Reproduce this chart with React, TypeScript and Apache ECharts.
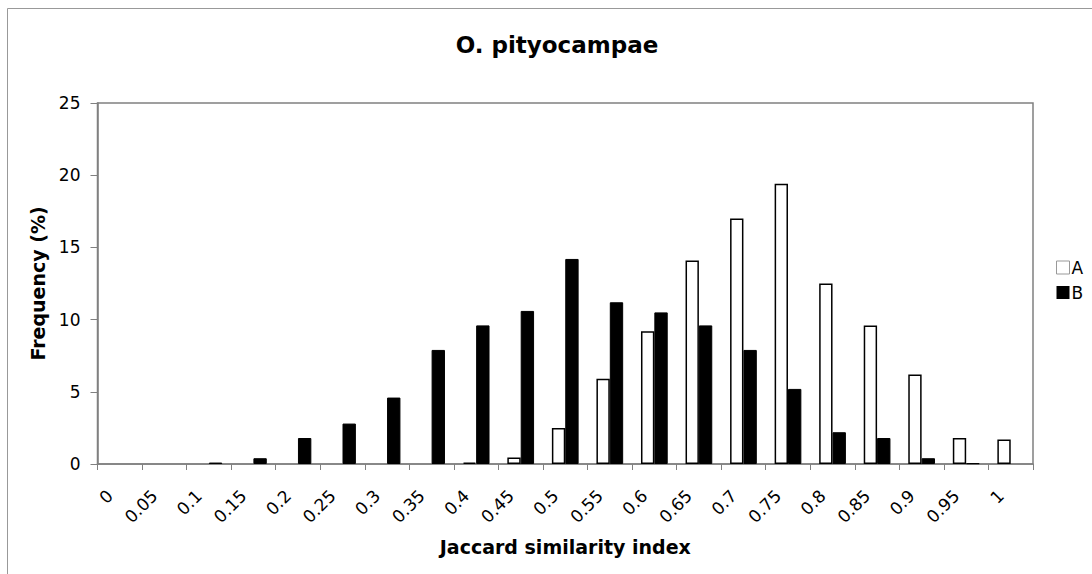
import React, { useEffect, useRef } from "react";
import * as echarts from "echarts";

const categories = ["0", "0.05", "0.1", "0.15", "0.2", "0.25", "0.3", "0.35", "0.4", "0.45", "0.5", "0.55", "0.6", "0.65", "0.7", "0.75", "0.8", "0.85", "0.9", "0.95", "1"];
const seriesA = [0, 0, 0, 0, 0, 0, 0, 0, 0.1, 0.45, 2.5, 5.9, 9.2, 14.1, 17.0, 19.4, 12.5, 9.6, 6.2, 1.8, 1.7];
const seriesB = [0, 0, 0.1, 0.4, 1.8, 2.8, 4.6, 7.9, 9.6, 10.6, 14.2, 11.2, 10.5, 9.6, 7.9, 5.2, 2.2, 1.8, 0.4, 0.05, 0];
const yTicks = { min: 0, max: 25, interval: 5 };

const FONT = "DejaVu Sans, Verdana, sans-serif";
const GREY = "#808080";

// zero-height bars are not drawn in the reference
const toBars = (arr: number[]) => arr.map((v) => (v === 0 ? "-" : v));

export default function App() {
  const ref = useRef<HTMLDivElement>(null);
  useEffect(() => {
    if (!ref.current) return;
    document.body.style.overflow = "hidden";
    const chart = echarts.init(ref.current, undefined, { renderer: "svg" });
    chart.setOption({
      animation: false,
      backgroundColor: "#fff",
      textStyle: { fontFamily: FONT, color: "#000" },
      title: {
        text: "O. pityocampae",
        left: 552,
        top: 28,
        textAlign: "center",
        textStyle: { fontFamily: FONT, fontWeight: "bold", fontSize: 23, color: "#000" },
      },
      graphic: [
        {
          type: "rect",
          shape: { x: 7.5, y: 8.5, width: 1200, height: 700 },
          style: { fill: "none", stroke: "#999", lineWidth: 1 },
          silent: true,
        },
      ],
      legend: {
        orient: "vertical",
        left: 1056,
        top: 259,
        padding: 0,
        itemWidth: 13,
        itemHeight: 13,
        itemGap: 8,
        icon: "rect",
        textStyle: { fontFamily: FONT, fontSize: 17, color: "#000", padding: [0, 0, 0, -3] },
        data: [
          { name: "A", itemStyle: { color: "#fff", borderColor: "#999", borderWidth: 1 } },
          { name: "B", itemStyle: { color: "#000", borderColor: "#000", borderWidth: 0 } },
        ],
      },
      grid: {
        left: 97.5,
        right: 59,
        top: 103,
        bottom: 110,
        show: true,
        borderColor: GREY,
        borderWidth: 1.5,
        containLabel: false,
      },
      xAxis: {
        type: "category",
        data: categories,
        name: "Jaccard similarity index",
        nameLocation: "middle",
        nameGap: 73,
        nameTextStyle: { fontFamily: FONT, fontWeight: "bold", fontSize: 19, color: "#000" },
        axisLine: { lineStyle: { color: GREY, width: 1.5 } },
        axisTick: { show: true, length: 6, lineStyle: { color: GREY } },
        axisLabel: {
          interval: 0,
          rotate: 45,
          fontSize: 17,
          color: "#000",
          fontFamily: FONT,
          margin: 19,
          padding: [0, 14, 0, 0],
        },
        splitLine: { show: false },
      },
      yAxis: {
        type: "value",
        min: yTicks.min,
        max: yTicks.max,
        interval: yTicks.interval,
        name: "Frequency (%)",
        nameLocation: "middle",
        nameGap: 46,
        nameTextStyle: { fontFamily: FONT, fontWeight: "bold", fontSize: 19, color: "#000" },
        axisLine: { show: true, lineStyle: { color: GREY, width: 1.5 } },
        axisTick: { show: true, length: 7, lineStyle: { color: GREY } },
        axisLabel: { fontSize: 17, color: "#000", fontFamily: FONT, margin: 17 },
        splitLine: { show: false },
      },
      series: [
        {
          name: "A",
          type: "bar",
          data: toBars(seriesA),
          barGap: "0%",
          barCategoryGap: "40%",
          itemStyle: { color: "#fff", borderColor: "#000", borderWidth: 1.5 },
        },
        {
          name: "B",
          type: "bar",
          data: toBars(seriesB),
          barGap: "0%",
          barCategoryGap: "40%",
          itemStyle: { color: "#000", borderColor: "#000", borderWidth: 1 },
        },
      ],
    });
    return () => chart.dispose();
  }, []);
  return (
    <div
      ref={ref}
      style={{ position: "fixed", left: 0, top: 0, width: 1092, height: 574 }}
    />
  );
}
